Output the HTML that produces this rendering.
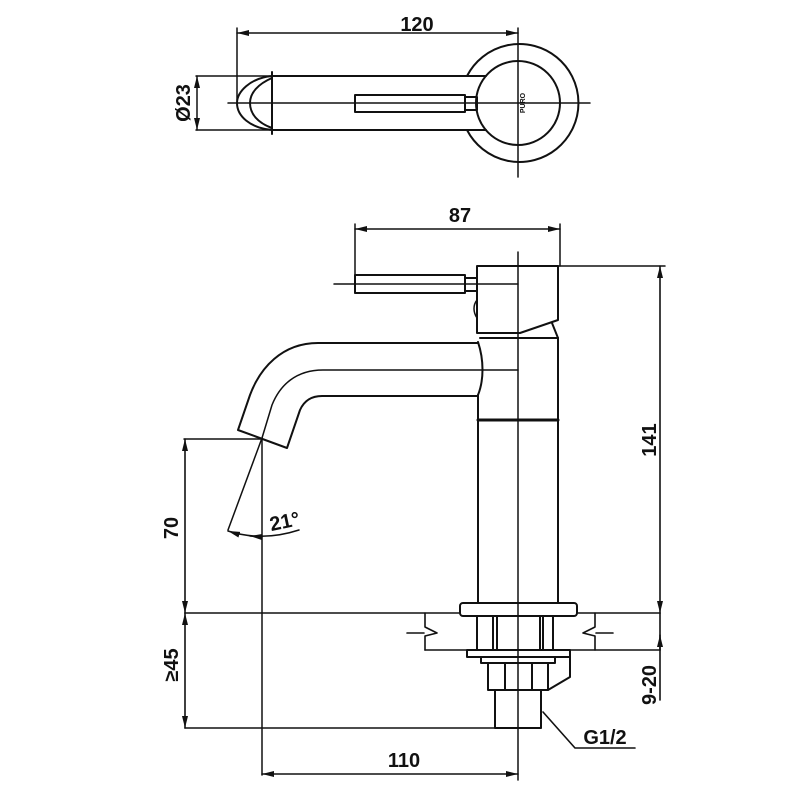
<!DOCTYPE html>
<html><head><meta charset="utf-8"><style>html,body{margin:0;padding:0;background:#fff}svg{display:block}</style></head>
<body>
<svg width="800" height="800" viewBox="0 0 800 800" xmlns="http://www.w3.org/2000/svg">
<defs>
<marker id="a" viewBox="0 0 12 6" refX="12" refY="3" markerWidth="12" markerHeight="6" orient="auto-start-reverse" markerUnits="userSpaceOnUse"><path d="M0,0 L12,3 L0,6 z" fill="#111"/></marker>
</defs>
<g fill="none" stroke="#111" stroke-width="2" stroke-linecap="round" stroke-linejoin="round">
<!-- TOP VIEW -->
<line x1="237" y1="33" x2="518" y2="33" stroke-width="1.6" marker-start="url(#a)" marker-end="url(#a)"/>
<line x1="237" y1="28" x2="237" y2="100" stroke-width="1.5"/>
<line x1="518" y1="28" x2="518" y2="177" stroke-width="1.5"/>
<line x1="228" y1="103" x2="590" y2="103" stroke-width="1.5"/>
<line x1="272" y1="76" x2="486" y2="76"/>
<line x1="272" y1="130" x2="486" y2="130"/>
<line x1="272" y1="72" x2="272" y2="134"/>
<path d="M272,76 C250,78 237,92 237,103 C237,116 250,128 272,130"/>
<path d="M272,78 C258,84 250,93 250,103 C250,114 258,123 272,128"/>
<circle cx="518" cy="103" r="42"/>
<path d="M467,76 A59,59 0 1 1 467,130"/>
<rect x="355" y="95" width="110" height="17"/>
<rect x="465" y="97" width="12" height="13"/>
<line x1="196" y1="76" x2="272" y2="76" stroke-width="1.5"/>
<line x1="196" y1="130" x2="272" y2="130" stroke-width="1.5"/>
<line x1="197" y1="76" x2="197" y2="130" stroke-width="1.5" marker-start="url(#a)" marker-end="url(#a)"/>

<!-- SIDE VIEW -->
<line x1="355" y1="229" x2="560" y2="229" stroke-width="1.6" marker-start="url(#a)" marker-end="url(#a)"/>
<line x1="355" y1="224" x2="355" y2="293" stroke-width="1.5"/>
<line x1="560" y1="224" x2="560" y2="266" stroke-width="1.5"/>
<rect x="355" y="275" width="110" height="18"/>
<rect x="465" y="278" width="12" height="13"/>
<line x1="334" y1="284" x2="518" y2="284" stroke-width="1.5"/>
<path d="M477,266 L558,266 L558,320 L520,333 L477,333 Z"/>
<line x1="558" y1="266" x2="665" y2="266" stroke-width="1.5"/>
<path d="M477,300 C473,305 473,312 477,318" stroke-width="1.5"/>
<path d="M552,323 L558,338"/>
<line x1="480" y1="338" x2="558" y2="338"/>
<path d="M478,342 C484,360 484,380 478,395"/>
<line x1="478" y1="395" x2="478" y2="603"/>
<line x1="558" y1="338" x2="558" y2="603"/>
<line x1="478" y1="420" x2="558" y2="420" stroke-width="3"/>
<line x1="518" y1="252" x2="518" y2="780" stroke-width="1.5"/>
<path d="M478,343 L318,343 C282,343 260,368 250,395 L238,430 L287,448 L300,410 C304,401 311,396 322,396 L478,396"/>
<path d="M518,370 L323,370 C296,370 280,385 272,405 L262,438" stroke-width="1.5"/>
<line x1="184" y1="439" x2="262" y2="439" stroke-width="1.5"/>
<line x1="262" y1="438" x2="262" y2="775" stroke-width="1.5"/>
<line x1="262" y1="438" x2="228" y2="530" stroke-width="1.5"/>
<path d="M228,531 Q262,542 299,530" stroke-width="1.5" marker-start="url(#a)"/>
<path d="M262,537 L250,536" stroke-width="1.5" marker-end="url(#a)"/>
<!-- dims -->
<line x1="185" y1="439" x2="185" y2="613" stroke-width="1.6" marker-start="url(#a)" marker-end="url(#a)"/>
<line x1="660" y1="266" x2="660" y2="613" stroke-width="1.6" marker-start="url(#a)" marker-end="url(#a)"/>
<line x1="185" y1="613" x2="185" y2="728" stroke-width="1.6" marker-start="url(#a)" marker-end="url(#a)"/>
<line x1="660" y1="613" x2="660" y2="700" stroke-width="1.6"/>
<path d="M660,650 L660,635" stroke-width="1.6" marker-end="url(#a)"/>
<line x1="262" y1="774" x2="518" y2="774" stroke-width="1.6" marker-start="url(#a)" marker-end="url(#a)"/>
<!-- counter -->
<line x1="185" y1="613" x2="660" y2="613" stroke-width="1.6"/>
<line x1="425" y1="650" x2="660" y2="650" stroke-width="1.6"/>
<path d="M425,613 V627 L437,633 L425,636 V650 M407,633 H424" stroke-width="1.6"/>
<path d="M595,613 V627 L583,633 L595,636 V650 M596,633 H613" stroke-width="1.6"/>
<rect x="460" y="603" width="117" height="13" rx="3" fill="#fff"/>
<line x1="518" y1="603" x2="518" y2="616" stroke-width="1.5"/>
<path d="M477,616 V650 M493,616 V650 M497,616 V650 M540,616 V650 M543,616 V650 M553,616 V650"/>
<rect x="467" y="650" width="103" height="7"/>
<rect x="481" y="657" width="74" height="6"/>
<path d="M570,657 V677 L548,690"/>
<rect x="488" y="663" width="60" height="27"/>
<path d="M505,663 V690 M532,663 V690"/>
<rect x="495" y="690" width="46" height="38"/>
<line x1="185" y1="728" x2="541" y2="728" stroke-width="1.6"/>
<path d="M543,712 L575,748 L635,748" stroke-width="1.6"/>
</g>
<g font-family="Liberation Sans, sans-serif" font-weight="bold" font-size="20" fill="#111" text-anchor="middle">
<text x="417" y="31">120</text>
<text x="460" y="222">87</text>
<text x="404" y="767">110</text>
<text x="605" y="744">G1/2</text>
<text transform="translate(190,103) rotate(-90)">Ø23</text>
<text transform="translate(178,528) rotate(-90)">70</text>
<text transform="translate(656,440) rotate(-90)">141</text>
<text transform="translate(178,665) rotate(-90)">≥45</text>
<text transform="translate(656,685) rotate(-90)">9-20</text>
<text transform="translate(286,528) rotate(-12)">21°</text>
<text transform="translate(525,103) rotate(-90)" font-size="7">PURO</text>
</g>
</svg>
</body></html>
